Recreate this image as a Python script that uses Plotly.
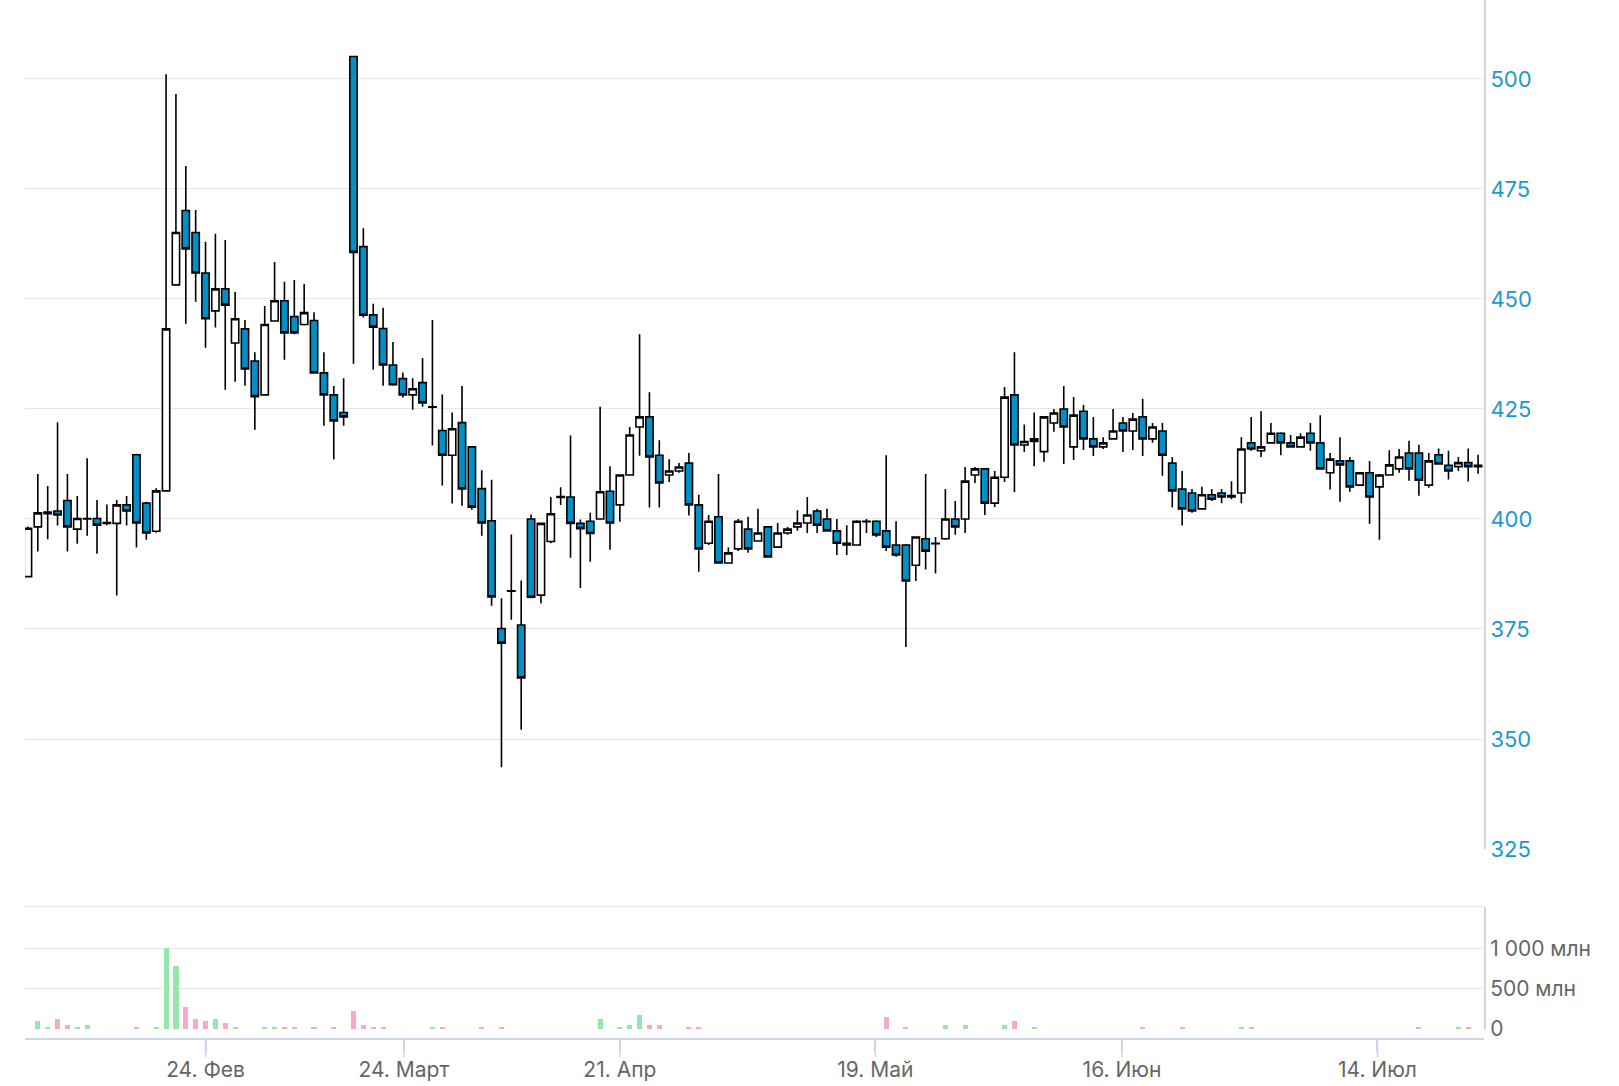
import plotly.graph_objects as go

# ---- data ----
opens = [386.9, 398.2, 401.2, 401.8, 404.2, 397.7, 400.0, 400.1, 399.2, 399.0,
         403.2, 414.6, 403.6, 397.2, 406.4, 453.2, 470.1, 465.1, 455.9, 447.3,
         452.3, 440.0, 443.2, 435.9, 428.2, 445.0, 449.6, 446.0, 444.2, 445.1,
         433.2, 428.2, 424.2, 505.1, 461.9, 446.4, 443.3, 435.0, 431.9, 428.2,
         431.0, 425.4, 420.1, 414.5, 421.9, 416.4, 406.9, 399.6, 375.1, 383.6,
         375.9, 400.0, 382.7, 394.9, 404.9, 405.0, 399.0, 399.5, 400.0, 406.3,
         403.2, 410.0, 420.9, 423.2, 414.5, 410.0, 410.9, 412.7, 403.2, 394.5,
         400.5, 390.0, 393.2, 397.7, 395.0, 398.2, 393.6, 396.8, 398.2, 399.1,
         401.8, 400.0, 397.3, 394.5, 394.1, 399.4, 399.5, 397.3, 394.1, 394.1,
         389.5, 395.5, 394.4, 395.5, 400.0, 400.0, 410.0, 411.4, 403.6, 409.5,
         428.2, 416.8, 417.6, 415.3, 421.8, 425.0, 416.4, 424.5, 418.2, 416.4,
         418.2, 421.8, 420.0, 423.2, 418.2, 420.0, 412.7, 406.8, 405.9, 402.3,
         405.5, 405.9, 405.0, 405.9, 417.3, 415.5, 417.3, 419.5, 417.3, 416.4,
         419.5, 417.3, 410.5, 413.2, 413.2, 407.7, 410.5, 407.3, 410.0, 411.4,
         415.0, 415.0, 407.7, 414.6, 412.2, 411.9, 412.8, 412.2]

highs = [398.3, 410.2, 407.5, 422.0, 410.2, 405.2, 413.8, 404.3, 403.3, 404.3,
         405.2, 414.8, 403.9, 407.0, 501.1, 496.6, 480.2, 470.2, 463.0, 464.8,
         463.4, 451.6, 445.2, 437.9, 448.4, 458.4, 453.9, 454.3, 453.4, 447.0,
         437.9, 430.2, 432.0, 505.2, 466.1, 448.9, 448.0, 440.2, 433.3, 432.0,
         436.6, 445.2, 428.3, 424.2, 430.2, 416.6, 411.1, 408.9, 382.0, 396.5,
         386.0, 401.0, 399.1, 405.0, 407.2, 419.0, 399.9, 401.4, 425.5, 412.0,
         410.0, 420.9, 442.0, 428.8, 417.9, 413.6, 412.7, 415.0, 405.5, 400.9,
         410.2, 393.6, 400.0, 400.5, 402.3, 398.4, 399.1, 398.2, 402.0, 405.0,
         402.3, 402.3, 400.0, 398.6, 399.7, 400.0, 399.7, 414.5, 399.5, 394.3,
         396.0, 410.2, 395.9, 406.8, 404.1, 411.8, 411.8, 411.6, 410.9, 430.0,
         437.9, 421.5, 424.2, 423.4, 425.0, 430.2, 427.7, 425.9, 423.2, 418.6,
         425.0, 423.2, 424.1, 427.3, 421.8, 421.8, 414.1, 410.9, 406.8, 407.3,
         406.8, 406.8, 408.6, 418.6, 423.2, 424.5, 421.8, 419.7, 419.1, 419.5,
         421.8, 423.6, 415.0, 418.6, 414.1, 410.7, 413.2, 410.2, 415.6, 415.9,
         417.8, 416.9, 415.0, 416.0, 415.5, 414.1, 416.0, 414.6]

lows = [386.9, 392.6, 395.4, 398.5, 392.6, 394.4, 396.2, 392.1, 398.6, 382.6,
        398.5, 393.5, 395.3, 396.9, 406.2, 453.0, 444.4, 449.4, 438.9, 443.5,
        429.4, 431.2, 430.3, 420.3, 428.0, 444.8, 436.2, 442.0, 444.0, 433.0,
        421.2, 413.5, 421.2, 435.3, 445.8, 433.9, 430.3, 430.3, 427.6, 424.8,
        425.5, 416.7, 407.6, 403.5, 403.0, 402.1, 396.2, 380.3, 343.6, 377.1,
        352.1, 382.0, 380.8, 394.5, 403.2, 391.2, 384.3, 390.3, 399.8, 393.0,
        399.4, 409.8, 414.4, 402.6, 402.6, 408.4, 410.5, 400.8, 388.0, 394.1,
        389.8, 389.8, 392.7, 392.3, 394.8, 391.2, 393.4, 396.4, 397.3, 396.8,
        396.8, 397.1, 391.8, 391.8, 393.9, 396.8, 395.9, 392.7, 391.4, 370.9,
        385.9, 388.5, 387.6, 395.3, 396.4, 396.8, 408.2, 400.9, 402.7, 408.4,
        406.1, 415.2, 412.0, 413.0, 419.8, 412.5, 413.4, 415.7, 414.3, 415.9,
        418.0, 415.2, 415.7, 414.3, 417.3, 409.8, 402.6, 398.5, 401.4, 402.1,
        404.1, 403.6, 404.5, 403.6, 415.5, 414.1, 417.1, 414.5, 416.2, 416.2,
        415.5, 411.2, 406.7, 403.9, 406.2, 407.5, 398.9, 395.3, 409.8, 410.5,
        408.7, 405.3, 407.1, 412.3, 409.0, 410.9, 408.5, 410.3]

closes = [397.9, 401.4, 401.6, 400.9, 398.2, 400.1, 400.1, 398.6, 399.0, 403.2,
          401.8, 399.1, 396.8, 406.4, 443.2, 465.1, 461.4, 455.9, 445.5, 452.3,
          448.6, 445.5, 434.1, 427.8, 444.2, 449.6, 442.3, 442.3, 446.9, 433.2,
          428.2, 422.3, 423.2, 460.6, 446.3, 443.6, 435.0, 430.5, 428.2, 429.6,
          426.4, 425.5, 414.5, 420.5, 406.8, 402.7, 399.1, 382.3, 371.8, 383.7,
          363.9, 382.2, 399.0, 401.2, 405.1, 399.0, 397.8, 396.7, 406.2, 399.1,
          410.0, 419.1, 423.2, 414.1, 408.2, 410.9, 411.8, 403.2, 393.2, 399.5,
          390.0, 392.3, 399.5, 393.2, 396.8, 391.4, 396.8, 397.7, 399.1, 400.9,
          398.6, 397.3, 394.5, 394.1, 399.5, 399.5, 396.4, 393.6, 391.8, 385.9,
          395.9, 392.7, 394.5, 400.0, 398.2, 408.6, 411.4, 403.6, 409.5, 427.7,
          416.8, 417.6, 418.2, 423.2, 424.1, 420.9, 423.6, 418.2, 416.4, 417.3,
          420.0, 420.0, 422.7, 418.2, 420.9, 414.5, 406.4, 402.3, 401.8, 405.5,
          404.5, 405.0, 405.3, 415.9, 415.9, 416.4, 419.5, 417.3, 416.4, 418.6,
          417.3, 411.4, 413.6, 412.3, 407.3, 410.5, 405.0, 410.0, 412.3, 414.1,
          411.4, 408.8, 413.2, 412.5, 410.9, 412.8, 411.9, 411.9]

# volume, millions
volumes_mln = [0, 108, 33, 133, 58, 33, 58, 0, 0, 0,
               0, 33, 0, 33, 1008, 783, 283, 133, 108, 133,
               83, 33, 0, 0, 33, 33, 33, 33, 0, 33,
               0, 33, 0, 233, 58, 33, 33, 0, 0, 0,
               0, 33, 33, 0, 0, 0, 33, 0, 33, 0,
               0, 0, 0, 0, 0, 0, 0, 0, 133, 0,
               33, 58, 183, 58, 58, 0, 0, 33, 33, 0,
               0, 0, 0, 0, 0, 0, 0, 0, 0, 0,
               0, 0, 0, 0, 0, 0, 0, 158, 0, 33,
               0, 0, 0, 58, 0, 58, 0, 0, 0, 58,
               108, 0, 33, 0, 0, 0, 0, 0, 0, 0,
               0, 0, 0, 33, 0, 0, 0, 33, 0, 0,
               0, 0, 0, 33, 33, 0, 0, 0, 0, 0,
               0, 0, 0, 0, 0, 0, 0, 0, 0, 0,
               0, 33, 0, 0, 0, 33, 33, 0]

# x positions of date ticks (in trading-day index units)
tick_positions = [18.0, 38.1, 60.0, 85.9, 110.9, 136.8]
tick_labels = ["24. Фев", "24. Март", "21. Апр", "19. Май", "16. Июн", "14. Июл"]
price_ticks = [325, 350, 375, 400, 425, 450, 475, 500]
volume_ticks = [0, 500, 1000]
volume_tick_labels = ["0", "500 млн", "1 000 млн"]

# ---- styles ----
UP_FILL = "#ffffff"
DOWN_FILL = "#0090c8"
VOL_UP = "#95e6ab"
VOL_DOWN = "#f9a9c6"
GRID = "#e6e6e6"
AXIS = "#ccd6eb"
FONT = "Inter, Roboto, sans-serif"

idx = list(range(len(opens)))
vol_colors = [VOL_UP if c >= o else VOL_DOWN for o, c in zip(opens, closes)]

W, H = 1619, 1086
ML, MR, MT, MB = 25, 135, 0, 47
PH = H - MT - MB  # plot height in px

def frac(px_from_top):
    return (PH - (px_from_top - MT)) / PH

fig = go.Figure()
fig.add_trace(go.Candlestick(
    x=idx, open=opens, high=highs, low=lows, close=closes,
    increasing=dict(fillcolor=UP_FILL, line=dict(color="#000000", width=1.6)),
    decreasing=dict(fillcolor=DOWN_FILL, line=dict(color="#000000", width=1.6)),
    whiskerwidth=0, hoverinfo="skip", showlegend=False,
    xaxis="x", yaxis="y",
))
fig.add_trace(go.Bar(
    x=idx, y=volumes_mln, marker=dict(color=vol_colors, line=dict(width=0)),
    width=0.52, hoverinfo="skip", showlegend=False,
    xaxis="x2", yaxis="y2",
))

# longer tick marks under the date labels
TICK_LEN = 18
tick_shapes = [dict(type="line", xref="x2", x0=t, x1=t,
                    yref="paper", y0=0, y1=-TICK_LEN / PH,
                    line=dict(color=AXIS, width=1.5))
               for t in tick_positions]

xr = [-0.3, 147.6]
fig.update_layout(
    width=W, height=H,
    margin=dict(l=ML, r=MR, t=MT, b=MB),
    paper_bgcolor="white", plot_bgcolor="white",
    font=dict(family=FONT),
    boxgap=0.26, boxgroupgap=0,
    bargap=0,
    xaxis=dict(domain=[0, 1], anchor="y", range=xr, showticklabels=False,
               showgrid=False, zeroline=False, showline=False, ticks="",
               rangeslider=dict(visible=False), fixedrange=True),
    yaxis=dict(domain=[frac(849), 1.0], anchor="x", range=[325, 517.95],
               side="right", tickvals=price_ticks, ticks="",
               showgrid=True, gridcolor=GRID, gridwidth=1.3,
               showline=True, linecolor=AXIS, linewidth=2, zeroline=False,
               tickfont=dict(size=22, color="#1b98d0", family=FONT)),
    xaxis2=dict(domain=[0, 1], anchor="free", position=0, range=xr,
                matches="x",
                tickmode="array", tickvals=tick_positions, ticktext=tick_labels,
                ticks="outside", ticklen=12, tickwidth=1.5, tickcolor=AXIS,
                showline=True, linecolor=AXIS, linewidth=2,
                showgrid=False, zeroline=False,
                tickfont=dict(size=21, color="#666666", family=FONT)),
    yaxis2=dict(domain=[frac(1029), frac(906.7)], anchor="x2",
                range=[-1, 1523], side="right",
                tickmode="array", tickvals=volume_ticks, ticktext=volume_tick_labels,
                ticks="", showgrid=True, gridcolor=GRID, gridwidth=1.3,
                showline=True, linecolor=AXIS, linewidth=2, zeroline=False,
                tickfont=dict(size=21, color="#666666", family=FONT)),
    shapes=[dict(type="line", xref="paper", x0=0, x1=1,
                 yref="y2 domain", y0=1, y1=1,
                 line=dict(color=GRID, width=1.3), layer="below")] + tick_shapes,
)

fig.write_html("out.html",
               config={"displayModeBar": False},
               post_script="document.body.style.margin='0';"
                           "document.body.style.overflow='hidden';")
